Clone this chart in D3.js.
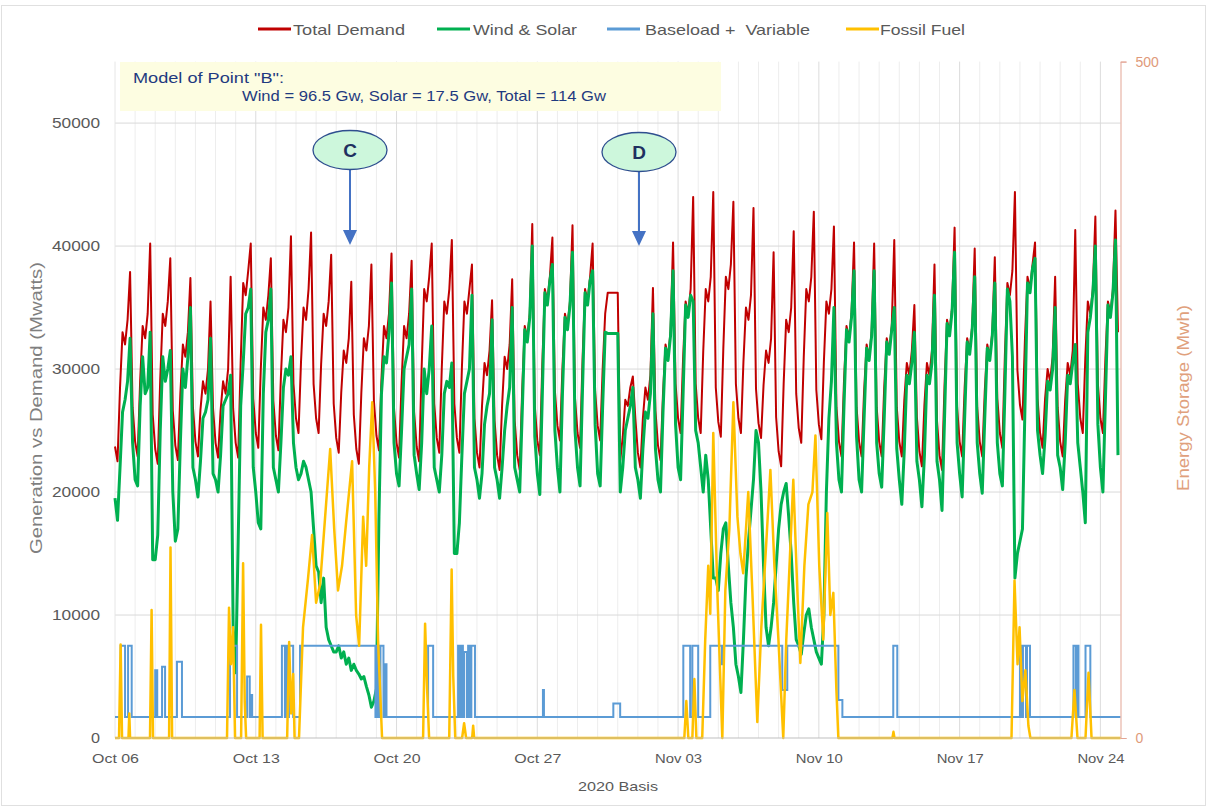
<!DOCTYPE html>
<html><head><meta charset="utf-8">
<script src="https://cdn.jsdelivr.net/npm/d3@7"></script>
<style>body{margin:0;background:#fff;} text{font-family:"Liberation Sans",Arial,sans-serif;}</style>
</head><body><svg id="c" width="1207" height="807"></svg>
<script>
// ---------------- DATA ----------------
const tickLabels = ["Oct 06","Oct 13","Oct 20","Oct 27","Nov 03","Nov 10","Nov 17","Nov 24"];
const tickDays = [0,7,14,21,28,35,42,49];
const yTicks = [0,10000,20000,30000,40000,50000];
const yRightTicks = [0,500];
const sampleHours = [0,3,6,9,12,15,18,21];
const seriesNames = ["Total Demand","Wind & Solar","Baseload +  Variable","Fossil Fuel"];

// Total demand, one row per day (Oct 06 .. Nov 24), values at sampleHours
const demand = [
[23700,22500,28500,33000,32000,34000,37900,26900],
[24100,22900,29000,33500,32500,34500,40200,26300],
[23500,22300,29200,34500,33500,35500,39000,26600],
[23800,22600,28000,32000,31000,33000,37400,26900],
[24100,22900,26700,29000,28000,30000,35500,26800],
[24000,22800,26600,29000,28000,30000,37500,26800],
[24000,22800,30600,37000,36000,38000,40200,27600],
[24800,23600,30000,35000,34000,36000,39000,27400],
[24600,23400,29400,34000,33000,35000,40800,28800],
[26000,24800,30600,35000,34000,36500,41100,28800],
[26000,24800,30400,34500,33500,35500,39300,27200],
[24400,23200,28100,31500,30500,32500,37100,26300],
[23500,22300,28100,32500,31500,33500,38500,27400],
[24600,23400,29200,33500,32500,34500,39400,26800],
[24000,22800,28900,33500,32500,34500,38800,26500],
[23700,22500,30200,36500,35500,37500,40200,27200],
[24400,23200,30100,35500,34500,36500,40500,27200],
[24400,23200,30100,35500,34500,36500,38500,26000],
[23200,22000,27000,30500,29500,31500,35600,25800],
[23000,21800,27100,31000,30000,32000,37300,25800],
[23000,21800,28400,33500,32500,34500,41800,27000],
[24200,23000,30500,36500,35500,37500,40700,28200],
[25400,24200,30100,34500,33500,35500,41700,27600],
[24800,23600,30800,36500,35500,37500,40200,28200],
[25400,24200,30000,34500,36200,36200,36200,36200],
[36200,22600,24500,27500,27000,28500,29400,26000],
[23200,22000,26000,28500,27500,29500,36600,26600],
[23800,22600,28000,32000,31000,33000,40300,28800],
[26000,24800,30900,35500,34500,36500,44000,28800],
[26000,24800,31400,36500,35500,37500,44400,28500],
[25700,24500,31700,37500,36500,38500,43600,28800],
[26000,24800,30600,35000,34000,36000,43100,28400],
[25600,24400,28700,31500,30500,32500,39500,26100],
[23300,22100,28800,34000,33000,35000,41200,28000],
[25200,24000,31000,36500,35500,37500,42800,28300],
[25500,24300,30600,35500,34500,36500,41600,26900],
[24100,22900,29000,33500,32500,34500,40300,26900],
[24100,22900,28200,32000,31000,33000,40200,26900],
[24100,22900,28500,32500,31500,33500,40500,26900],
[24100,22900,27500,30500,29500,31500,35200,26100],
[23300,22100,27100,30500,29500,31500,38500,25800],
[23000,21800,28700,34000,33000,35000,41500,26900],
[24100,22900,28500,32500,31500,33500,39800,26900],
[24100,22900,28200,32000,31000,33000,39100,27600],
[24800,23600,31100,37000,36000,38000,44400,29900],
[27100,25900,32500,37500,36500,38500,40300,27600],
[24800,23600,27600,30000,29000,31000,37500,26900],
[24100,22900,27500,30500,29500,31500,41300,28800],
[26000,24800,30900,35500,34500,36500,42400,28800],
[26000,24800,30900,35500,34500,36500,42900,33000]
];

// Wind & Solar, same layout
const windSolar = [
[19500,17700,22000,26500,27500,29000,32500,24000],
[21000,20500,27000,31000,28000,28500,33000,14500],
[14500,16500,25000,31000,29000,30000,31500,20000],
[16000,17000,24000,30000,28500,31000,35000,22000],
[21000,19600,22500,26000,26500,27500,32500,21500],
[21000,20000,23000,27000,27500,28000,29500,9000],
[5300,16000,27000,30500,34500,35000,36500,22000],
[20000,17500,17000,28000,33000,34000,36500,22000],
[21000,20000,24000,28500,30000,29500,31000,24000],
[22000,21000,21500,22500,22000,21000,20000,17000],
[14000,13500,11000,13000,9000,8000,7500,7000],
[7000,7500,6500,7000,6000,6500,5500,6000],
[5500,5200,4800,5000,4200,3500,2500,3000],
[4000,18000,28000,31000,30500,33000,37000,24000],
[21500,20500,25000,30000,31000,32000,36500,23000],
[21500,20200,24000,30000,28000,30000,33500,22000],
[21000,20000,23000,28000,29000,28500,30500,15000],
[15000,17500,23000,28000,29000,30000,36000,22000],
[21000,19500,21500,25500,27000,28000,34000,22000],
[21000,19500,22000,25000,27000,28500,35000,22000],
[21000,20000,26500,33200,32200,34200,40000,24500],
[21500,19800,28000,36200,35200,37200,38500,25000],
[22000,20000,28000,34200,33200,35200,39500,25000],
[22000,20500,28500,36200,35200,37200,38000,25500],
[21500,20500,27000,33000,32900,32900,32900,32900],
[32900,20000,22000,25000,26000,27000,28500,22000],
[21000,19500,23500,26500,26000,28000,34500,23500],
[21000,20000,26500,31700,30700,32700,38000,25500],
[22000,21000,28000,35200,34200,36000,35500,25000],
[24000,22000,20000,23000,21000,17000,13000,13000],
[12000,15000,17000,17500,14000,11000,9000,6000],
[5000,3700,8000,13000,16000,18500,21000,25000],
[24000,20000,14000,9000,7500,9000,11000,14000],
[17000,19000,20000,20700,18000,15000,11000,8000],
[7500,6800,8500,10000,10500,9000,8000,7000],
[6500,6000,10000,20000,26000,29000,35000,24000],
[21000,20000,27000,33200,32200,34200,38000,24500],
[21000,20000,26000,31700,30700,32700,38000,24000],
[21500,20400,26000,32200,31200,33200,35000,23500],
[21000,19000,23500,29500,28800,30500,33000,22500],
[21000,18800,23000,29500,28800,30500,36000,22500],
[21000,18500,26000,33700,32700,34700,39500,24000],
[21500,19600,26000,32200,31200,33200,37500,24000],
[21500,19900,26000,31700,30700,32700,37000,24000],
[21500,20500,28000,36500,35500,31000,13000,15000],
[16000,17000,27000,37000,36200,38200,39000,25000],
[23000,21500,24500,29000,28300,30000,35000,23000],
[22000,20200,24000,29500,28800,30500,32000,24000],
[22000,20000,17500,33000,34200,36200,40000,25500],
[22000,20000,27500,35200,34200,36200,40500,23000]
];

// Baseload + Variable: base level and periods [startDay, endDay, value]
const baseloadLevel = 1700;
const baseloadHigh = [
[0.28,0.5,7500],[0.65,0.83,7500],[2.0,2.1,5500],[2.34,2.49,5800],[3.08,3.33,6200],
[5.72,6.07,7500],[6.57,6.7,5000],[6.75,6.82,3500],
[8.3,8.45,7500],[8.5,8.6,7500],[8.65,8.86,7500],
[9.2,12.95,7500],[13.0,13.1,7500],[13.2,13.35,7500],[13.4,13.5,6000],
[15.57,15.82,7500],
[17.06,17.16,7500],[17.22,17.3,7500],[17.36,17.5,7000],[17.56,17.64,7500],[17.72,17.9,7500],
[21.28,21.33,3900],[24.78,25.12,2800],
[28.26,28.6,7500],[28.71,29.0,7500],
[29.6,30.18,7500],[30.18,30.25,6000],[30.25,33.18,7500],[33.18,33.43,3900],[33.43,35.97,7500],[35.97,36.17,3100],
[38.7,38.9,7500],
[45.0,45.1,7500],[45.15,45.3,7500],[45.35,45.5,7500],
[47.66,47.78,7500],[47.82,47.91,7500],[48.26,48.5,7500]
];

// Fossil fuel: [day, value] vertices (zero between)
const fossil = [
[0,0],[0.2,0],[0.28,7600],[0.35,0],[0.67,0],[0.71,2000],[0.75,0],
[1.74,0],[1.82,10400],[1.89,0],[2.69,0],[2.76,15500],[2.84,0],
[5.57,0],[5.67,10600],[5.77,6000],[5.87,9000],[5.97,0],
[6.27,0],[6.37,14200],[6.45,3000],[6.52,0],
[7.19,0],[7.26,9200],[7.34,0],
[8.56,0],[8.66,7800],[8.76,2000],[8.86,5200],[8.93,0],
[9.15,0],[9.35,9000],[9.6,13000],[9.8,16500],[10.0,11000],[10.2,12500],[10.45,18000],[10.7,23500],
[10.9,17000],[11.09,12000],[11.29,14000],[11.49,17500],[11.79,22500],[11.99,10000],[12.14,7500],
[12.34,18000],[12.49,14000],[12.64,22000],[12.79,27300],[12.94,20000],[13.08,8000],[13.28,0],
[15.32,0],[15.42,9300],[15.52,4000],[15.62,0],
[16.62,0],[16.74,13700],[16.82,5000],[16.92,0],
[17.26,0],[17.36,1200],[17.46,0],[17.76,0],[17.81,1000],[17.86,0],
[28.31,0],[28.41,3000],[28.51,0],[28.71,0],[28.81,4800],[28.91,0],
[29.2,0],[29.35,8000],[29.5,14000],[29.6,10100],[29.75,24800],[29.95,12000],[30.2,0],
[30.35,12000],[30.55,17000],[30.75,27300],[30.95,18000],[31.1,15000],[31.24,13400],[31.49,20000],
[31.69,12000],[31.94,1300],[32.14,9000],[32.39,16000],[32.59,21800],[32.79,14000],[32.99,8000],
[33.23,0],[33.38,8000],[33.73,21000],[33.93,12000],[34.08,6100],[34.28,14000],[34.48,19000],
[34.68,20000],[34.83,24600],[35.02,14000],[35.22,8000],[35.42,18300],[35.57,10000],[35.72,11800],
[35.87,4000],[35.97,0],
[38.66,0],[38.71,500],[38.76,0],
[44.58,0],[44.73,12800],[44.88,6000],[44.98,9000],[45.12,3000],[45.27,5500],[45.42,1000],[45.52,0],
[47.56,0],[47.71,3900],[47.86,0],[48.26,0],[48.41,5300],[48.56,0],
[50,0]
];

// ---------------- CHART ----------------
const svg = d3.select("#c");
const W = 1207, H = 807;
const x = d3.scaleLinear().domain([0,50]).range([115,1120.5]);
const y = d3.scaleLinear().domain([0,55000]).range([738,61.6]);
const yR = d3.scaleLinear().domain([0,500]).range([738,61.6]);
const colors = {demand:"#c00000", wind:"#00b050", base:"#5b9bd5", fossil:"#ffc000"};

svg.append("rect").attr("x",0).attr("y",0).attr("width",W).attr("height",H).attr("fill","#fff");
svg.append("rect").attr("x",1.5).attr("y",5.5).attr("width",W-3).attr("height",H-7)
  .attr("fill","none").attr("stroke","#e0e0e0");

// vertical daily gridlines
const g = svg.append("g");
g.selectAll("line.v").data(d3.range(1,50)).join("line")
  .attr("x1",d=>x(d)).attr("x2",d=>x(d)).attr("y1",y(55000)).attr("y2",y(0))
  .attr("stroke",d=>d%7===0?"#dcdcdc":"#ededed").attr("stroke-width",1);
// horizontal gridlines
g.selectAll("line.h").data(yTicks.filter(d=>d>0)).join("line")
  .attr("x1",x(0)).attr("x2",x(50)).attr("y1",d=>y(d)).attr("y2",d=>y(d))
  .attr("stroke","#d9d9d9").attr("stroke-width",1);
g.append("line").attr("x1",x(0)).attr("x2",x(0)).attr("y1",y(55000)).attr("y2",y(0)).attr("stroke","#e6e6e6");

// annotation box
svg.append("rect").attr("x",120).attr("y",62).attr("width",601).attr("height",49).attr("fill","#fdfde1");
svg.append("text").attr("x",133).attr("y",83).attr("font-size",14.5).attr("fill","#1f3a80")
  .attr("textLength",151).attr("lengthAdjust","spacingAndGlyphs").text('Model of Point "B":');
svg.append("text").attr("x",242).attr("y",101).attr("font-size",14.5).attr("fill","#1f3a80")
  .attr("textLength",364).attr("lengthAdjust","spacingAndGlyphs").text("Wind = 96.5 Gw, Solar = 17.5 Gw, Total = 114 Gw");

// series points
const flat = rows => rows.flatMap((row,d)=>row.map((v,i)=>[d+sampleHours[i]/24, v]));
const demandPts = flat(demand);
const windPts = flat(windSolar);
const basePts = [[0,baseloadLevel]];
baseloadHigh.forEach((s,i)=>{
  const prev = baseloadHigh[i-1];
  if(!(prev && Math.abs(prev[1]-s[0])<1e-6)) basePts.push([s[0],baseloadLevel]);
  basePts.push([s[0],s[2]],[s[1],s[2]]);
  const next = baseloadHigh[i+1];
  if(!(next && Math.abs(next[0]-s[1])<1e-6)) basePts.push([s[1],baseloadLevel]);
});
basePts.push([50,baseloadLevel]);

const line = d3.line().x(d=>x(d[0])).y(d=>y(d[1]));
const plot = svg.append("g");
plot.append("path").datum(demandPts).attr("d",line).attr("fill","none")
  .attr("stroke",colors.demand).attr("stroke-width",2).attr("stroke-linejoin","round");
plot.append("path").datum(windPts).attr("d",line).attr("fill","none")
  .attr("stroke",colors.wind).attr("stroke-width",3).attr("stroke-linejoin","round");
plot.append("path").datum(basePts).attr("d",line).attr("fill","none")
  .attr("stroke",colors.base).attr("stroke-width",2);
plot.append("path").datum(fossil).attr("d",line).attr("fill","none")
  .attr("stroke",colors.fossil).attr("stroke-width",2.5).attr("stroke-linejoin","round");

// axes
const axL = svg.append("g").attr("transform",`translate(${x(0)},0)`)
  .call(d3.axisLeft(y).tickValues(yTicks).tickSize(0).tickPadding(15).tickFormat(d3.format("d")));
axL.select(".domain").remove();
axL.selectAll("text").attr("font-size",15).attr("fill","#595959")
  .attr("font-family","Liberation Sans, Arial, sans-serif")
  .attr("textLength",d=>d===0?9:48).attr("lengthAdjust","spacingAndGlyphs");

const axB = svg.append("g").attr("transform",`translate(0,${y(0)})`)
  .call(d3.axisBottom(x).tickValues(tickDays).tickSize(0).tickPadding(15).tickFormat((d,i)=>tickLabels[i]));
axB.select(".domain").attr("stroke","#bfbfbf").attr("d",`M${x(0)},0H${x(50)}`);
axB.selectAll("text").attr("font-size",13.5).attr("fill","#595959")
  .attr("font-family","Liberation Sans, Arial, sans-serif")
  .attr("textLength",47).attr("lengthAdjust","spacingAndGlyphs");

const axR = svg.append("g").attr("transform",`translate(${x(50)},0)`)
  .call(d3.axisRight(yR).tickValues(yRightTicks).tickSize(6).tickPadding(9));
axR.select(".domain").attr("stroke","#e3a595");
axR.selectAll(".tick line").attr("stroke","#e3a595");
axR.selectAll("text").attr("font-size",14).attr("fill","#e09a7a")
  .attr("font-family","Liberation Sans, Arial, sans-serif");

// axis titles
svg.append("text").attr("transform","translate(42,408) rotate(-90)").attr("text-anchor","middle")
  .attr("font-size",16.5).attr("fill","#7f7f7f").attr("textLength",292).attr("lengthAdjust","spacingAndGlyphs")
  .text("Generation vs Demand (Mwatts)");
svg.append("text").attr("transform","translate(1189,398) rotate(-90)").attr("text-anchor","middle")
  .attr("font-size",16.5).attr("fill","#e0a07c").attr("textLength",186).attr("lengthAdjust","spacingAndGlyphs")
  .text("Energy Storage (Mwh)");
svg.append("text").attr("x",618).attr("y",791).attr("text-anchor","middle").attr("font-size",13.5)
  .attr("fill","#595959").attr("textLength",80).attr("lengthAdjust","spacingAndGlyphs").text("2020 Basis");

// legend
const legendItems = [
  {name:seriesNames[0], c:colors.demand, x0:258, tx:293, tl:112},
  {name:seriesNames[1], c:colors.wind, x0:437, tx:473, tl:104},
  {name:seriesNames[2], c:colors.base, x0:607, tx:645, tl:165},
  {name:seriesNames[3], c:colors.fossil, x0:846, tx:880, tl:85}
];
const lg = svg.append("g");
legendItems.forEach(it=>{
  lg.append("line").attr("x1",it.x0).attr("x2",it.x0+33).attr("y1",29).attr("y2",29)
    .attr("stroke",it.c).attr("stroke-width",3);
  lg.append("text").attr("x",it.tx).attr("y",34.5).attr("font-size",15).attr("fill","#595959")
    .attr("textLength",it.tl).attr("lengthAdjust","spacingAndGlyphs").style("white-space","pre").text(it.name);
});

// callouts C and D
const callouts = [{label:"C", cx:350, cy:150, tip:245},{label:"D", cx:639, cy:152, tip:246}];
callouts.forEach(c=>{
  svg.append("line").attr("x1",c.cx).attr("x2",c.cx).attr("y1",c.cy+19).attr("y2",c.tip-12)
    .attr("stroke","#4472c4").attr("stroke-width",2);
  svg.append("path").attr("d",`M${c.cx-7},${c.tip-15}L${c.cx+7},${c.tip-15}L${c.cx},${c.tip}Z`).attr("fill","#4472c4");
  svg.append("ellipse").attr("cx",c.cx).attr("cy",c.cy).attr("rx",37).attr("ry",19.5)
    .attr("fill","#cdf7dc").attr("stroke","#2f4f8f").attr("stroke-width",1.3);
  svg.append("text").attr("x",c.cx).attr("y",c.cy+7).attr("text-anchor","middle")
    .attr("font-size",19).attr("font-weight","bold").attr("fill","#1f3060").text(c.label);
});
</script></body></html>
